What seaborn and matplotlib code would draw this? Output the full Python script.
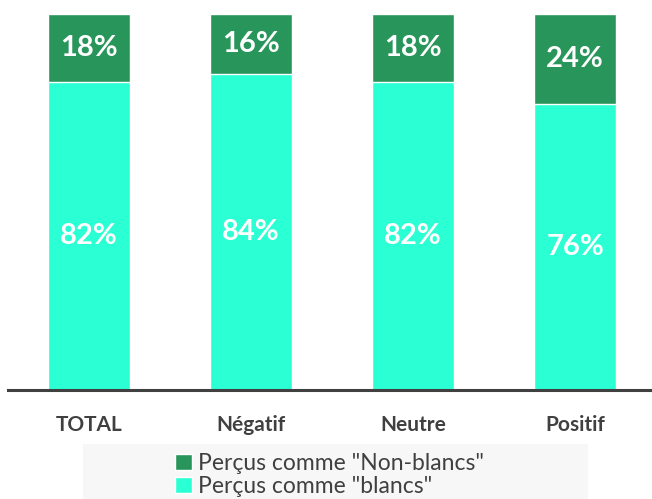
import matplotlib
matplotlib.use("Agg")
import matplotlib.pyplot as plt
import seaborn as sns
import numpy as np
from matplotlib.patches import Rectangle, Patch

categories = ['TOTAL', 'Négatif', 'Neutre', 'Positif']
blancs = [82, 84, 82, 76]
non_blancs = [18, 16, 18, 24]

green = '#28965A'
cyan = '#2BFFD4'

sns.set_style('white')
plt.rcParams['font.family'] = ['Lato', 'DejaVu Sans']

fig = plt.figure(figsize=(6.52, 4.99), dpi=100)
ax = fig.add_axes([8 / 652, 0.218, 644 / 652, 0.754])

totals = np.array(blancs) + np.array(non_blancs)
sns.barplot(x=categories, y=totals, color=green, width=0.506, ax=ax, saturation=1)
sns.barplot(x=categories, y=blancs, color=cyan, width=0.506, ax=ax, saturation=1)

# percentage labels
for i, (b, n) in enumerate(zip(blancs, non_blancs)):
    ax.text(i, b / 2, f'{b}%', ha='center', va='center', color='white',
            fontsize=21, fontweight='bold')
    ax.text(i, b + n / 2, f'{n}%', ha='center', va='center', color='white',
            fontsize=21, fontweight='bold')

ax.set_xlim(-0.5, 3.475)
ax.set_ylim(0, 100)
ax.set_yticks([])
ax.set_xlabel('')
ax.set_ylabel('')
for s in ['left', 'right', 'top']:
    ax.spines[s].set_visible(False)
ax.spines['bottom'].set_color('#404040')
ax.spines['bottom'].set_linewidth(2.2)
ax.tick_params(axis='x', length=0, pad=18, labelsize=15, labelcolor='#404040')
for lab in ax.get_xticklabels():
    lab.set_fontweight('bold')

# legend with light background box
fig.patches.append(Rectangle((83 / 652, 0), 505 / 652, 55 / 499,
                             transform=fig.transFigure, facecolor='#F7F7F7',
                             edgecolor='none', zorder=0))
handles = [Patch(facecolor=green, label='Perçus comme "Non-blancs"'),
           Patch(facecolor=cyan, label='Perçus comme "blancs"')]
fig.legend(handles=handles, loc='upper left', bbox_to_anchor=(164 / 652, 1 - 442 / 499),
           frameon=False, fontsize=16.5, handlelength=0.7, handleheight=0.7,
           handletextpad=0.3, labelspacing=0.05, borderpad=0, labelcolor='#404040')

fig.savefig('out.png', dpi=100)
